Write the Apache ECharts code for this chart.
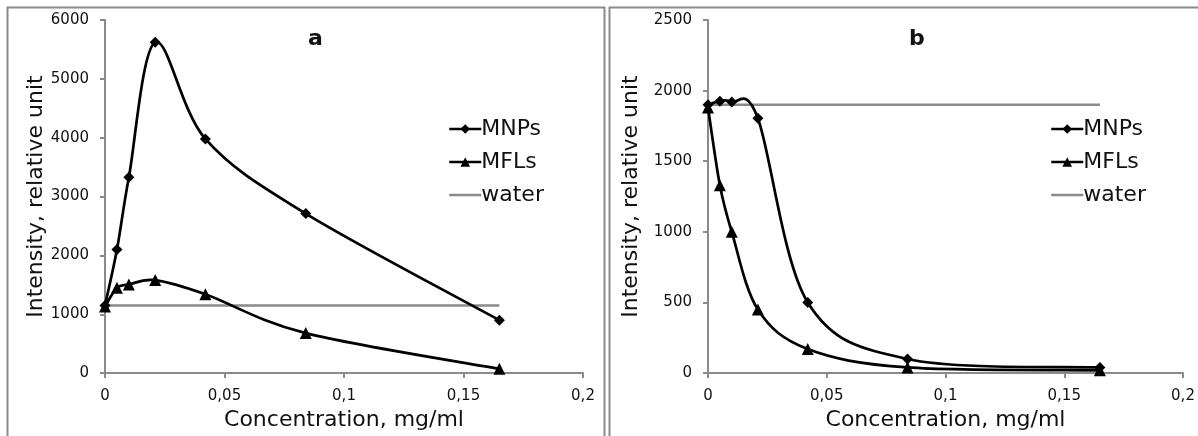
<!DOCTYPE html>
<html>
<head>
<meta charset="utf-8">
<script src="https://cdn.jsdelivr.net/npm/echarts@6/dist/echarts.min.js"></script>
<style>
  html, body { margin: 0; padding: 0; background: #fff; }
  #main { width: 1198px; height: 436px; }
</style>
</head>
<body>
<div id="main"></div>
<script>
var conc = [0, 0.005, 0.01, 0.021, 0.042, 0.084, 0.165];
var mnpsA = [1150, 2100, 3330, 5620, 3980, 2710, 900];
var mflsA = [1130, 1450, 1505, 1580, 1340, 680, 72];
var mnpsB = [1900, 1925, 1920, 1805, 500, 100, 40];
var mflsB = [1880, 1330, 1000, 450, 170, 40, 20];
var waterConc = [0, 0.165];
var waterA = [1150, 1150];
var waterB = [1900, 1900];
var xTicks = { min: 0, max: 0.2, interval: 0.05 };

var myChart = echarts.init(document.getElementById('main'));

var font = '"DejaVu Sans", Verdana, sans-serif';
var axisGray = '#8a8a8a';

function pairs(xs, ys) {
    var res = [];
    for (var i = 0; i < xs.length; i++) {
        res.push([xs[i], ys[i]]);
    }
    return res;
}

function xAxisFor(idx) {
    return {
        type: 'value',
        gridIndex: idx,
        min: xTicks.min,
        max: xTicks.max,
        interval: xTicks.interval,
        name: 'Concentration, mg/ml',
        nameLocation: 'middle',
        nameGap: 35,
        nameTextStyle: { fontFamily: font, fontSize: 22, color: '#111' },
        axisLine: { lineStyle: { color: axisGray, width: 2 } },
        axisTick: { show: true, length: 5, lineStyle: { color: axisGray, width: 2 } },
        axisLabel: {
            fontFamily: font, fontSize: 15, color: '#111', margin: 16,
            formatter: function (v) { return String(v).replace('.', ','); }
        },
        splitLine: { show: false }
    };
}

function yAxisFor(idx, max, interval, gap) {
    return {
        type: 'value',
        gridIndex: idx,
        min: 0,
        max: max,
        interval: interval,
        name: 'Intensity, relative unit',
        nameLocation: 'middle',
        nameGap: gap,
        nameTextStyle: { fontFamily: font, fontSize: 22, color: '#111' },
        axisLine: { show: true, lineStyle: { color: axisGray, width: 2 } },
        axisTick: { show: true, length: 5, lineStyle: { color: axisGray, width: 2 } },
        axisLabel: {
            fontFamily: font, fontSize: 15, color: '#111', margin: 16,
            formatter: function (v) { return String(v); }
        },
        splitLine: { show: false }
    };
}

// markers + legend entry; the curve itself is drawn by smoothPath below
function markers(name, idx, data, symbol, size) {
    return {
        name: name,
        type: 'line',
        xAxisIndex: idx,
        yAxisIndex: idx,
        data: data,
        symbol: symbol,
        symbolSize: size,
        lineStyle: { color: '#000', width: 2.5, opacity: 0 },
        itemStyle: { color: '#000' },
        z: 4
    };
}

// excel-like smoothed line (catmull-rom bezier through the data points)
function smoothPath(idx, xs, ys) {
    return {
        type: 'custom',
        xAxisIndex: idx,
        yAxisIndex: idx,
        data: pairs(xs, ys),
        silent: true,
        z: 3,
        renderItem: function (params, api) {
            if (params.dataIndex !== 0) return;
            var p = [];
            for (var i = 0; i < xs.length; i++) {
                p.push(api.coord([xs[i], ys[i]]));
            }
            var kids = [];
            for (var j = 0; j < p.length - 1; j++) {
                var p0 = p[Math.max(j - 1, 0)];
                var p1 = p[j];
                var p2 = p[j + 1];
                var p3 = p[Math.min(j + 2, p.length - 1)];
                kids.push({
                    type: 'bezierCurve',
                    shape: {
                        x1: p1[0], y1: p1[1],
                        x2: p2[0], y2: p2[1],
                        cpx1: p1[0] + (p2[0] - p0[0]) / 6,
                        cpy1: p1[1] + (p2[1] - p0[1]) / 6,
                        cpx2: p2[0] - (p3[0] - p1[0]) / 6,
                        cpy2: p2[1] - (p3[1] - p1[1]) / 6
                    },
                    style: { fill: null, stroke: '#000', lineWidth: 2.7 }
                });
            }
            return { type: 'group', children: kids };
        }
    };
}

function water(idx, data) {
    return {
        name: 'water',
        type: 'line',
        xAxisIndex: idx,
        yAxisIndex: idx,
        data: data,
        symbol: 'none',
        lineStyle: { color: '#8a8a8a', width: 2.5 },
        itemStyle: { color: '#8a8a8a' },
        z: 2
    };
}

function legendAt(left) {
    return {
        orient: 'vertical',
        left: left,
        top: 118,
        padding: 0,
        itemWidth: 32,
        itemHeight: 12,
        itemGap: 11,
        lineStyle: { width: 2.5, opacity: 1 },
        textStyle: { fontFamily: font, fontSize: 22, color: '#111', padding: [0, 0, 0, -5] },
        data: ['MNPs', 'MFLs', { name: 'water', itemStyle: { opacity: 0 } }]
    };
}

var option = {
    animation: false,
    backgroundColor: '#fff',
    title: [
        { text: 'a', left: 303, top: 23, textStyle: { fontFamily: font, fontSize: 22, fontWeight: 'bold', color: '#111' } },
        { text: 'b', left: 904, top: 23, textStyle: { fontFamily: font, fontSize: 22, fontWeight: 'bold', color: '#111' } }
    ],
    legend: [legendAt(448), legendAt(1050)],
    grid: [
        { left: 105, top: 20, width: 478, height: 356 },
        { left: 708, top: 20, width: 475, height: 354 }
    ],
    xAxis: [xAxisFor(0), xAxisFor(1)],
    yAxis: [yAxisFor(0, 6000, 1000, 58), yAxisFor(1, 2500, 500, 66)],
    graphic: [
        { type: 'rect', shape: { x: 7.5, y: 7.5, width: 597, height: 440 }, style: { fill: 'none', stroke: '#8a8a8a', lineWidth: 2 }, silent: true },
        { type: 'rect', shape: { x: 609.5, y: 7.5, width: 600, height: 440 }, style: { fill: 'none', stroke: '#8a8a8a', lineWidth: 2 }, silent: true }
    ],
    series: [
        smoothPath(0, conc, mnpsA),
        smoothPath(0, conc, mflsA),
        markers('MNPs', 0, pairs(conc, mnpsA), 'diamond', 11),
        markers('MFLs', 0, pairs(conc, mflsA), 'triangle', 12),
        water(0, pairs(waterConc, waterA)),
        smoothPath(1, conc, mnpsB),
        smoothPath(1, conc, mflsB),
        markers('MNPs', 1, pairs(conc, mnpsB), 'diamond', 11),
        markers('MFLs', 1, pairs(conc, mflsB), 'triangle', 12),
        water(1, pairs(waterConc, waterB))
    ]
};

myChart.setOption(option);
</script>
</body>
</html>
